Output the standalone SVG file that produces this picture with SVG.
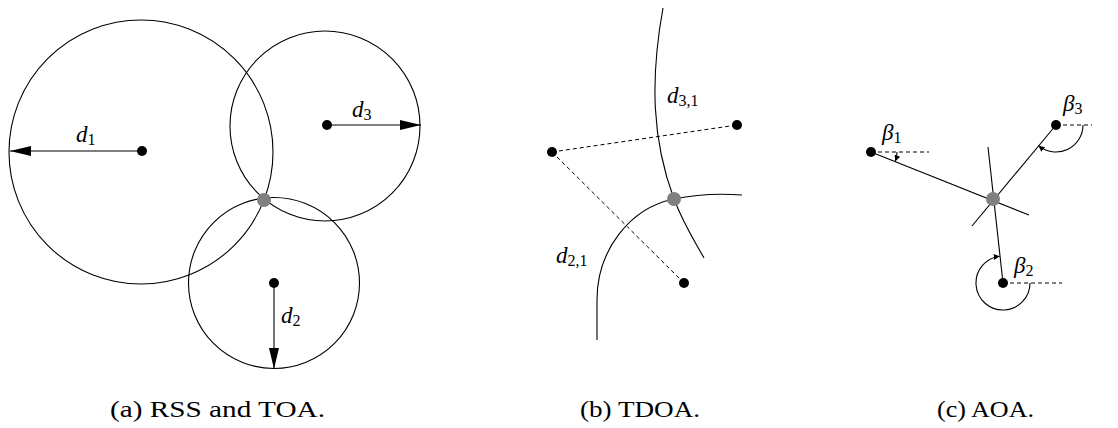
<svg xmlns="http://www.w3.org/2000/svg" width="1118" height="428" viewBox="0 0 1118 428">
<defs>
<marker id="big" markerUnits="userSpaceOnUse" markerWidth="22" markerHeight="11" refX="21" refY="5" orient="auto">
<path d="M0,0 L21,5 L0,10 z" fill="#000"/>
</marker>
<marker id="small" markerUnits="userSpaceOnUse" markerWidth="7" markerHeight="7" refX="6" refY="3" orient="auto">
<path d="M0,0 L6,3 L0,6 z" fill="#000"/>
</marker>
</defs>
<style>
.ln{fill:none;stroke:#000;stroke-width:1.1}
.dash{fill:none;stroke:#000;stroke-width:1;stroke-dasharray:4 3}
.dot{fill:#000}
.tgt{fill:#808080}
.math{font-family:'Liberation Serif',serif;font-style:italic;font-size:23px;fill:#000}
.sub{font-style:normal;font-size:16px}
.cap{font-family:'Liberation Serif',serif;font-size:24px;fill:#000}
</style>
<rect width="1118" height="428" fill="#fff"/>

<g id="panel-a">
<g id="circle1"><circle class="ln" cx="141" cy="152" r="132"/></g>
<g id="circle3"><circle class="ln" cx="325" cy="126" r="95"/></g>
<g id="circle2"><circle class="ln" cx="274" cy="283" r="85.5"/></g>
<g id="connectors-a">
<line class="ln" x1="142" y1="151" x2="10" y2="151" marker-end="url(#big)"/>
<line class="ln" x1="327" y1="125" x2="421" y2="125" marker-end="url(#big)"/>
<line class="ln" x1="274" y1="283" x2="274" y2="369" marker-end="url(#big)"/>
</g>
<g id="anchor1-a"><circle class="dot" cx="142" cy="151" r="5"/></g>
<g id="anchor3-a"><circle class="dot" cx="327" cy="125" r="5"/></g>
<g id="anchor2-a"><circle class="dot" cx="274" cy="283" r="5"/></g>
<g id="target-a"><circle class="tgt" cx="264" cy="200" r="7"/></g>
<text class="math" x="76" y="142">d<tspan class="sub" dy="3">1</tspan></text>
<text class="math" x="352" y="117">d<tspan class="sub" dy="3">3</tspan></text>
<text class="math" x="281" y="323">d<tspan class="sub" dy="3">2</tspan></text>
<text class="cap" x="110" y="417" textLength="215" lengthAdjust="spacingAndGlyphs">(a) RSS and TOA.</text>
</g>

<g id="panel-b">
<g id="connectors-b">
<line class="dash" x1="552" y1="152" x2="737" y2="125"/>
<line class="dash" x1="552" y1="152" x2="684" y2="283" stroke-dasharray="3 2.5"/>
</g>
<g id="hyperbola31"><path class="ln" d="M663,8 C650,80 652,140 674,199 C684,225 694,240 704,258"/></g>
<g id="hyperbola21"><path class="ln" d="M742,195 C715,193 693,195 674,199 C630,208 597,250 597,300 L597,340"/></g>
<g id="anchor1-b"><circle class="dot" cx="552" cy="152" r="5"/></g>
<g id="anchor3-b"><circle class="dot" cx="737" cy="125" r="5"/></g>
<g id="anchor2-b"><circle class="dot" cx="684" cy="283" r="5"/></g>
<g id="target-b"><circle class="tgt" cx="674" cy="199" r="7"/></g>
<text class="math" x="667" y="103">d<tspan class="sub" dy="3">3,1</tspan></text>
<text class="math" x="556" y="263">d<tspan class="sub" dy="3">2,1</tspan></text>
<text class="cap" x="580" y="417" textLength="120" lengthAdjust="spacingAndGlyphs">(b) TDOA.</text>
</g>

<g id="panel-c">
<g id="connectors-c">
<line class="ln" x1="871" y1="152" x2="1029" y2="215"/>
<line class="ln" x1="1056" y1="125" x2="972" y2="226"/>
<line class="ln" x1="1003" y1="283" x2="988" y2="147"/>
<line class="dash" x1="871" y1="152" x2="929" y2="152"/>
<line class="dash" x1="1056" y1="125" x2="1092" y2="125"/>
<line class="dash" x1="1003" y1="283" x2="1062" y2="283"/>
<path class="ln" d="M897,152 A26,26 0 0 1 895.3,161.3" marker-end="url(#small)"/>
<path class="ln" d="M1083,125 A27,27 0 0 1 1038.6,145.7" marker-end="url(#small)"/>
<path class="ln" d="M1030,283 A27,27 0 1 1 999.7,256.2" marker-end="url(#small)"/>
</g>
<g id="anchor1-c"><circle class="dot" cx="871" cy="152" r="5"/></g>
<g id="anchor3-c"><circle class="dot" cx="1056" cy="125" r="5"/></g>
<g id="anchor2-c"><circle class="dot" cx="1003" cy="283" r="5"/></g>
<g id="target-c"><circle class="tgt" cx="993" cy="199" r="7"/></g>
<text class="math" x="882" y="140">β<tspan class="sub" dy="3">1</tspan></text>
<text class="math" x="1063" y="111">β<tspan class="sub" dy="3">3</tspan></text>
<text class="math" x="1014" y="273">β<tspan class="sub" dy="3">2</tspan></text>
<text class="cap" x="937" y="417" textLength="97" lengthAdjust="spacingAndGlyphs">(c) AOA.</text>
</g>
</svg>
